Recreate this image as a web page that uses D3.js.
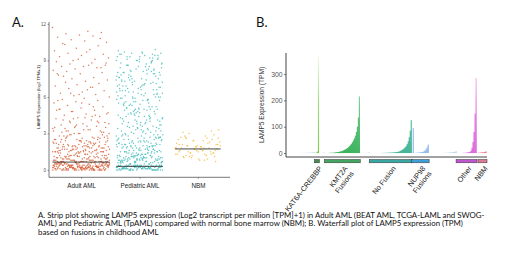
<!DOCTYPE html>
<html>
<head>
<meta charset="utf-8">
<script src="https://cdn.jsdelivr.net/npm/d3@7"></script>
<style>
  body { margin: 0; background: #fff; }
  svg { display: block; }
</style>
</head>
<body>
<div id="chart"></div>
<script>
// ---- Panel A: strip plot, LAMP5 log2(TPM+1) ----
const stripGroups = ["Adult AML", "Pediatric AML", "NBM"];
const stripTicks = [0, 3, 6, 9, 12];
const groupMedians = [0.65, 0.3, 1.73];

const adultAML = [
  11.7, 11.4, 11.2, 11.3, 11.1, 10.9, 11.0, 10.7, 10.5, 10.6, 10.4, 10.2, 10.0, 9.8, 9.9, 9.6, 9.5, 9.4, 9.3, 9.1, 9.0, 9.2, 9.7, 10.3, 10.8, 9.1,
  8.9, 8.8, 8.7, 8.6, 8.5, 8.5, 8.4, 8.3, 8.2, 8.6, 8.1, 8.0, 7.9, 7.8, 7.6, 7.5, 7.4, 7.3, 7.7, 7.1, 7.0, 6.9, 6.8, 6.7, 6.5, 6.4, 6.3, 6.2, 6.1, 6.0, 6.6, 7.2, 8.4, 6.2, 7.9, 6.8, 6.3, 8.8,
  5.9, 5.8, 5.7, 5.6, 5.5, 5.4, 5.3, 5.2, 5.1, 5.0, 4.9, 4.8, 4.7, 4.6, 4.5, 4.4, 4.3, 4.2, 4.1, 4.0, 3.9, 3.8, 3.7, 3.6, 3.5, 3.4, 3.3, 3.2, 3.1, 3.0,
  5.7, 5.2, 4.8, 4.6, 4.3, 4.1, 3.9, 3.7, 3.5, 3.3, 3.2, 3.1, 5.5, 5.0, 4.5, 4.2, 3.8, 3.6, 3.4, 3.2, 3.0, 4.9, 4.4, 3.9, 3.5, 3.3, 3.1, 4.0, 3.6, 3.2,
  2.3, 1.7, 2.9, 1.5, 2.1, 2.6, 1.9, 2.4, 1.6, 2.8, 2.0, 1.8, 2.5, 2.2, 1.5, 2.7, 1.9, 2.3, 1.6, 3.0,
  1.7, 2.1, 2.6, 1.8, 2.4, 1.5, 2.0, 2.9, 1.6, 2.2, 1.9, 2.7, 1.7, 2.5, 1.8, 2.1, 1.5, 2.3, 2.8, 1.6,
  2.0, 1.9, 2.4, 1.7, 2.6, 1.5, 2.2, 1.8, 2.9, 2.1, 1.6, 2.5, 1.7, 2.0, 2.3, 1.9, 2.7, 1.5, 2.4, 1.8,
  2.2, 1.6, 2.8, 1.7, 2.1, 1.9, 2.5, 1.5, 2.3, 2.0, 1.8, 2.6, 1.6, 2.2, 1.7, 3.0, 1.9, 2.4, 1.5, 2.1,
  1.8, 2.7, 1.6, 2.3, 2.0, 1.7, 2.5, 1.9, 2.2, 1.5, 2.8, 1.8, 2.4, 1.6, 2.1, 1.7, 2.6, 2.0, 1.9, 2.3,
  1.1, .8, 1.4, .9, 1.2, .7, 1.0, 1.3, .8, 1.5, .9, 1.1, .7, 1.4, 1.0, .8, 1.2, .9, 1.3, .7,
  1.0, 1.4, .8, 1.1, .9, 1.5, .7, 1.2, 1.0, .8, 1.3, .9, 1.1, .7, 1.4, 1.0, .8, 1.2, .9, 1.5,
  .7, 1.1, 1.3, .8, 1.0, .9, 1.2, .7, 1.4, 1.1, .8, 1.0, 1.3, .9, .7, 1.2, 1.5, .8, 1.1, 1.0,
  .9, 1.4, .7, 1.2, .8, 1.3, 1.0, .9, 1.1, .7, 1.5, .8, 1.2, 1.0, .9, 1.4, .7, 1.1, .8, 1.3,
  .3, .1, .6, .0, .4, .2, .7, .5, .1, .3, .0, .6, .2, .4, .1, .5, .3, .7, .0, .2,
  .5, .0, .2, .6, .1, .4, .3, .0, .7, .2, .5, .1, .4, .0, .6, .3, .1, .5, .2, .4,
  .1, .6, .3, .0, .5, .2, .4, .1, .7, .0, .3, .6, .2, .5, .0, .4, .1, .3, .6, .2,
  .4, .2, .0, .5, .3, .1, .6, .4, .0, .2, .7, .3, .1, .5, .2, .0, .4, .6, .1, .3,
  .2, .5, .1, .4, .0, .6, .3, .2, .5, .1, .0, .4, .7, .2, .3, .1, .6, .0, .5, .3,
  .0, .3, .5, .1, .6, .2, .0, .4, .3, .1, .5, .2, .6, .0, .4, .7, .2, .1, .3, .5,
  .6, .1, .4, .2, .0, .5, .3, .1, .6, .4, .2, .0, .3, .5, .1, .2, .7, .4, .0, .2,
  .1, .4, .0, .3, .6, .2, .5, .0, .1, .4, .3, .6, .0, .2, .5, .1, .3, .0, .4, .6,
  .3, .0, .2, .5, .1, .7, .4, .2, .0, .3, .6, .1, .4, .2, .0, .5, .3, .1, .6, .2
];

const pediatricAML = [
  7.4, 3.8, 9.1, 5.2, 6.7, 4.3, 8.5, 3.1, 6.0, 9.6, 4.9, 7.9, 5.6, 3.4, 8.2, 6.4, 4.1, 9.3, 5.9, 7.1,
  3.6, 8.8, 5.0, 6.9, 4.6, 9.0, 7.6, 3.3, 5.4, 8.0, 6.2, 4.0, 9.5, 7.3, 5.8, 3.9, 8.6, 6.6, 4.4, 7.8,
  9.2, 5.3, 3.2, 7.0, 6.1, 8.3, 4.7, 9.8, 5.7, 3.5, 7.5, 6.8, 4.2, 8.9, 3.0, 6.3, 9.4, 5.1, 7.7, 4.8,
  6.5, 4.5, 8.1, 3.7, 9.7, 5.5, 7.2, 4.1, 6.9, 8.7, 3.9, 5.0, 9.1, 7.4, 4.3, 6.0, 8.4, 3.2, 5.6, 7.9,
  4.0, 7.6, 5.8, 9.3, 3.4, 6.6, 8.0, 5.2, 4.6, 9.0, 6.3, 3.6, 7.1, 8.5, 5.9, 4.4, 9.6, 6.8, 3.1, 7.3,
  8.2, 3.3, 6.1, 4.9, 7.8, 9.4, 5.4, 3.8, 8.8, 6.4, 4.2, 7.0, 5.1, 9.9, 3.5, 6.7, 8.3, 4.7, 5.7, 7.5,
  5.3, 9.2, 4.5, 7.7, 3.0, 8.6, 6.2, 5.0, 9.5, 4.0, 7.2, 3.7, 8.1, 6.5, 4.8, 9.0, 5.5, 3.4, 7.4, 6.0,
  3.9, 6.9, 8.9, 5.6, 4.3, 7.1, 9.3, 3.2, 6.3, 8.4, 5.2, 4.6, 7.8, 3.6, 9.7, 6.6, 5.0, 8.0, 4.1, 7.6,
  9.1, 4.7, 7.3, 3.1, 5.9, 8.7, 6.1, 4.4, 9.4, 3.8, 7.0, 5.8, 8.2, 6.8, 3.3, 5.4, 9.0, 4.9, 6.4, 8.5,
  6.7, 3.5, 5.1, 8.8, 4.2, 7.5, 9.6, 5.7, 3.0, 6.2, 8.3, 4.5, 7.9, 5.3, 9.2, 3.7, 6.5, 8.1, 4.8, 7.2,
  4.4, 8.6, 6.0, 3.4, 9.5, 5.5, 7.7, 4.0, 6.9, 8.0, 3.6, 5.9, 9.3, 7.4, 4.6, 6.3, 8.9, 3.2, 5.0, 7.0,
  2.4, 1.1, 2.9, .7, 1.8, 2.2, 1.4, .9, 2.6, 1.6, .6, 2.0, 1.2, 2.8, 1.0, 1.9, .8, 2.3, 1.5, .5,
  1.3, 2.7, .9, 2.1, 1.7, .6, 2.5, 1.0, 1.4, 2.9, .8, 1.8, 2.2, 1.1, .7, 2.6, 1.5, 2.0, .9, 1.2,
  2.3, .5, 1.6, 2.8, 1.0, 1.9, .7, 2.4, 1.3, .8, 2.1, 1.7, .6, 2.7, 1.1, 1.5, 2.0, .9, 2.5, 1.4,
  .8, 1.8, 2.2, .6, 1.2, 2.9, 1.0, 1.6, .7, 2.3, 1.4, .9, 2.6, 1.1, .5, 1.9, 2.1, 1.3, .8, 1.7,
  2.0, 1.0, .7, 2.5, 1.5, .9, 2.8, 1.2, 1.8, .6, 2.4, 1.1, 1.6, .8, 2.2, 1.4, .5, 2.7, 1.0, 1.9,
  1.1, .6, 2.1, 1.7, .9, 2.6, 1.3, .7, 1.9, 2.3, 1.0, .8, 1.5, 2.9, 1.2, .6, 2.0, 1.6, .9, 2.4,
  .7, 1.4, 2.2, 1.0, .5, 1.8, 2.7, 1.2, .8, 1.6, 2.0, .9, 1.3, 2.5, .6, 1.1, 1.9, .7, 2.8, 1.5,
  1.6, .8, 1.2, 2.4, .6, 1.0, 2.1, 1.4, .9, 2.6, 1.7, .5, 1.1, 2.3, .8, 1.5, 1.0, 2.9, 1.3, .7,
  2.2, 1.3, .6, 1.9, 1.1, 2.7, .9, 1.5, 2.0, .7, 1.2, 2.4, 1.0, .8, 1.8, 2.1, .6, 1.4, 2.5, 1.0,
  .2, .0, .4, .1, .3, .0, .2, .4, .1, .3, .2, .0, .3, .1, .4, .2, .0, .1, .3, .2,
  .1, .3, .0, .2, .4, .1, .3, .0, .2, .1, .4, .3, .0, .2, .1, .3, .4, .0, .2, .1,
  .4, .1, .2, .0, .3, .2, .1, .4, .0, .3, .1, .2, .0, .4, .3, .1, .2, .0, .3, .1,
  .0, .2, .3, .1, .0, .4, .2, .1, .3, .0, .2, .4, .1, .3, .0, .2, .1, .3, .4, .0,
  .3, .0, .1, .4, .2, .1, .0, .3, .2, .4, .0, .1, .3, .2, .0, .4, .1, .2, .0, .3
];

const nbm = [
  1.8, 2.4, 1.2, 2.9, 1.6, 2.1, .9, 1.4, 2.6, 1.9, 1.1, 3.2, 1.7, 2.2, 1.3, 2.0, .7, 1.5, 2.7, 1.8,
  1.0, 2.3, 1.6, 2.8, 1.4, 1.9, 2.5, 1.2, 3.0, 1.7, .8, 2.1, 1.5, 2.4, 1.3, 1.8, 2.6, 1.1, 2.0, 1.6,
  2.2, 1.4, 3.3, 1.9, 1.0, 2.5, 1.7, 1.3, 2.8, 1.5, 2.1, .9, 1.8, 2.3, 1.2, 2.0, 1.6, 2.7, 1.4, 1.9,
  1.5, 2.6, 1.1, 2.1, 1.7, 3.1, 1.3, 2.4, 1.8, .8, 2.0, 1.6
];

// ---- Panel B: waterfall, LAMP5 TPM sorted within fusion group ----
const fusionGroups = ["pre", "KAT6A-CREBBP", "gap1", "KMT2A Fusions", "gap2", "No Fusion",
  "NUP98 Fusions", "gap3", "Other", "gap4", "NBM"];
const fusionLabels = ["", "KAT6A-CREBBP", "", "KMT2A\nFusions", "", "No Fusion",
  "NUP98\nFusions", "", "Other", "", "NBM"];
const tpmPre = [0, 0, 0, 0, 0, 0, 0, 0, 0, 0.1, 0.1, 0.2, 0.2, 0.3, 0.3, 0.4, 0.5, 0.5, 0.6, 0.7, 0.8, 1, 1.1, 1.3, 1.5, 1.8, 2.2, 3];
const tpmKAT6A = [0.5, 2, 6, 370];
const tpmGap1 = [0, 0, 0.2, 0.4, 0.8, 1.5];
const tpmKMT2A = [0, 0, 0, 0.5, 0.5, 1, 1, 1, 1.5, 2, 2.5, 3, 3.5, 4, 5, 6, 7, 8, 10, 12,
  14, 16, 19, 22, 26, 30, 35, 41, 48, 56, 66, 80, 100, 135, 215];
const tpmGap2 = [0, 0, 0, 0, 0.2, 0.3, 0.5, 0.8, 1.2, 2];
const tpmNoFusion = [0, 0, 0, 0, 0, 0, 0, 0, 0, 0, 0.2, 0.3, 0.4, 0.5, 0.6, 0.8, 1, 1, 1.2, 1.4,
  1.6, 1.8, 2, 2.3, 2.6, 3, 3.5, 4, 5, 6, 8, 10, 12, 15, 18, 22, 27, 34, 45, 60, 85, 125];
const tpmNUP98 = [0.5, 95, 0, 0.5, 1, 1, 1.5, 2, 2.5, 3, 4, 5, 7, 10, 15, 22, 32];
const tpmGap3 = [0, 0, 0, 0, 0, 0, 0, 0, 0, 0, 0.1, 0.2, 0.2, 0.3, 0.4, 0.5, 0.6, 0.8, 1, 1.2,
  1.5, 1.8, 2.2, 2.7, 3.3, 4, 5, 7];
const tpmOther = [0, 0, 0, 0, 0, 0.3, 0.5, 0.8, 1, 1.3, 1.8, 2.5, 3.5, 4.5, 9, 20, 42, 80, 150, 285];
const tpmGap4 = [0.5, 1.5];
const tpmNBM = [1, 1.5, 2, 2.5, 3, 3.5, 4.5, 6];
const tpmTicks = [0, 100, 200, 300];

const captionLines = [
  "A. Strip plot showing LAMP5 expression (Log2 transcript per million [TPM]+1) in Adult AML (BEAT AML, TCGA-LAML and SWOG-",
  "AML) and Pediatric AML (TpAML) compared with normal bone marrow (NBM); B. Waterfall plot of LAMP5 expression (TPM)",
  "based on fusions in childhood AML"
];

const width = 520;
const height = 255;
const svg = d3.select('#chart').append('svg')
  .attr('width', width)
  .attr('height', height);

const plotFont = '"Liberation Sans", Arial, sans-serif';
const textFont = 'Lato, "Open Sans", sans-serif';

// panel letters
svg.append('text').attr('x', 12).attr('y', 27)
  .attr('font-family', textFont).attr('font-size', 13).attr('fill', '#111')
  .text('A.');
svg.append('text').attr('x', 256).attr('y', 27)
  .attr('font-family', textFont).attr('font-size', 13).attr('fill', '#111')
  .text('B.');

// ================= Panel A =================
const stripData = [adultAML, pediatricAML, nbm];
const stripColors = ['#d65c32', '#40bcba', '#f2b935'];
const jitterHalf = [0.49, 0.4, 0.39];   // fraction of category step

const xA = d3.scalePoint().domain(stripGroups).range([49, 230]).padding(0.55);
const yA = d3.scaleLinear().domain([-0.6, 12.15]).range([177.3, 22.1]);
const stepA = xA.step();

const gA = svg.append('g');

// axes lines
gA.append('line').attr('x1', 49).attr('x2', 49).attr('y1', 22).attr('y2', 177.3)
  .attr('stroke', '#555').attr('stroke-width', 0.8);
gA.append('line').attr('x1', 49).attr('x2', 230).attr('y1', 177.3).attr('y2', 177.3)
  .attr('stroke', '#555').attr('stroke-width', 0.8);

const yAxisA = gA.append('g').attr('transform', 'translate(49,0)')
  .call(d3.axisLeft(yA).tickValues(stripTicks).tickSize(1.5).tickPadding(1.5));
yAxisA.select('.domain').remove();
yAxisA.selectAll('line').attr('stroke', '#555').attr('stroke-width', 0.6);
yAxisA.selectAll('text').attr('font-size', 4.5).attr('font-family', plotFont).attr('fill', '#555');

const xAxisA = gA.append('g').attr('transform', 'translate(0,177.3)')
  .call(d3.axisBottom(xA).tickSize(1.5).tickPadding(5));
xAxisA.select('.domain').remove();
xAxisA.selectAll('line').attr('stroke', '#555').attr('stroke-width', 0.6);
xAxisA.selectAll('text').attr('font-size', 6.3).attr('font-family', plotFont).attr('fill', '#222');

gA.append('text')
  .attr('transform', 'translate(40,97) rotate(-90)')
  .attr('text-anchor', 'middle')
  .attr('font-family', plotFont).attr('font-size', 4.3).attr('fill', '#222')
  .text('LAMP5 Expression (log2 TPM+1)');

const golden = 0.6180339887;
stripData.forEach((vals, gi) => {
  const cx = xA(stripGroups[gi]);
  const half = jitterHalf[gi] * stepA;
  gA.append('g').selectAll('circle')
    .data(vals)
    .enter()
    .append('circle')
    .attr('cx', (d, i) => cx + (((i * golden) % 1) - 0.5) * 2 * half)
    .attr('cy', d => yA(d))
    .attr('r', 0.75)
    .attr('fill', stripColors[gi])
    .attr('opacity', 0.8);
});

// median lines
gA.selectAll('.median')
  .data(groupMedians)
  .enter()
  .append('line')
  .attr('class', 'median')
  .attr('x1', (d, i) => xA(stripGroups[i]) - jitterHalf[i] * stepA)
  .attr('x2', (d, i) => xA(stripGroups[i]) + jitterHalf[i] * stepA)
  .attr('y1', d => yA(d))
  .attr('y2', d => yA(d))
  .attr('stroke', '#333')
  .attr('stroke-width', 0.9);

// ================= Panel B =================
const fusionValues = [tpmPre, tpmKAT6A, tpmGap1, tpmKMT2A, tpmGap2, tpmNoFusion,
  tpmNUP98, tpmGap3, tpmOther, tpmGap4, tpmNBM];
const fusionColors = ['#b8cfe0', '#7ccb4e', '#b8cfe0', '#3db35e', '#b8cfe0', '#33ad8c',
  '#86b5e4', '#b8cfe0', '#d850d6', '#d8b0d8', '#e8667c'];
const barColors = {
  'KAT6A-CREBBP': '#3f8f4f',
  'KMT2A Fusions': '#44a462',
  'No Fusion': '#3aa7a4',
  'NUP98 Fusions': '#3f9fd8',
  'Other': '#bf55cf',
  'NBM': '#dd7a96'
};

const samples = [];
fusionGroups.forEach((g, gi) => {
  fusionValues[gi].forEach((v, i) => samples.push({ group: g, gi: gi, id: g + '-' + i, value: v }));
});

const xB = d3.scaleBand().domain(samples.map(d => d.id)).range([287, 486.5]).padding(0);
const yB = d3.scaleLinear().domain([-15, 380]).range([157, 53]);

const gB = svg.append('g');
const defs = svg.append('defs');

// fade towards the top, the way the dense thin bars look
fusionGroups.forEach((g, gi) => {
  const grad = defs.append('linearGradient')
    .attr('id', 'fade' + gi)
    .attr('gradientUnits', 'userSpaceOnUse')
    .attr('x1', 0).attr('x2', 0)
    .attr('y1', yB(380)).attr('y2', yB(0));
  grad.append('stop').attr('offset', 0).attr('stop-color', fusionColors[gi]).attr('stop-opacity', 0.08);
  grad.append('stop').attr('offset', 0.55).attr('stop-color', fusionColors[gi]).attr('stop-opacity', 0.75);
  grad.append('stop').attr('offset', 1).attr('stop-color', fusionColors[gi]).attr('stop-opacity', 1);
});

gB.append('g').selectAll('rect')
  .data(samples)
  .enter()
  .append('rect')
  .attr('x', d => xB(d.id))
  .attr('width', xB.bandwidth() + 0.15)
  .attr('y', d => yB(d.value))
  .attr('height', d => Math.max(0, yB(0) - yB(d.value)))
  .attr('fill', d => `url(#fade${d.gi})`);

// axes
gB.append('line').attr('x1', 286).attr('x2', 286).attr('y1', 53).attr('y2', 157)
  .attr('stroke', '#444').attr('stroke-width', 1);
gB.append('line').attr('x1', 286).attr('x2', 487).attr('y1', 157).attr('y2', 157)
  .attr('stroke', '#444').attr('stroke-width', 1);

const yAxisB = gB.append('g').attr('transform', 'translate(286,0)')
  .call(d3.axisLeft(yB).tickValues(tpmTicks).tickSize(2).tickPadding(1.5));
yAxisB.select('.domain').remove();
yAxisB.selectAll('line').attr('stroke', '#444').attr('stroke-width', 0.7);
yAxisB.selectAll('text').attr('font-size', 6.8).attr('font-family', plotFont).attr('fill', '#555');

gB.append('text')
  .attr('transform', 'translate(264,105) rotate(-90)')
  .attr('text-anchor', 'middle')
  .attr('font-family', plotFont).attr('font-size', 6.6).attr('fill', '#333')
  .text('LAMP5 Expression (TPM)');

// group bars and rotated labels
const labelled = fusionGroups
  .map((g, gi) => ({ group: g, label: fusionLabels[gi], vals: fusionValues[gi] }))
  .filter(d => d.label !== '');

labelled.forEach(d => {
  const x0 = xB(d.group + '-0') - 0.5;
  const x1 = xB(d.group + '-' + (d.vals.length - 1)) + xB.bandwidth() + 0.5;
  d.x0 = x0;
  d.x1 = x1;
  d.cx = (x0 + x1) / 2;
});

gB.selectAll('.grpbar')
  .data(labelled)
  .enter()
  .append('rect')
  .attr('class', 'grpbar')
  .attr('x', d => d.x0)
  .attr('width', d => d.x1 - d.x0)
  .attr('y', 159.5)
  .attr('height', 3.3)
  .attr('fill', d => barColors[d.group])
  .attr('stroke', '#333')
  .attr('stroke-width', 0.5);

const labelG = gB.selectAll('.grplabel')
  .data(labelled)
  .enter()
  .append('text')
  .attr('class', 'grplabel')
  .attr('transform', d => `translate(${d.cx + 1.5},165.5) rotate(-52)`)
  .attr('text-anchor', 'end')
  .attr('font-family', plotFont)
  .attr('font-size', 7.3)
  .attr('fill', '#222');

labelG.selectAll('tspan')
  .data(d => d.label.split('\n'))
  .enter()
  .append('tspan')
  .attr('x', 0)
  .attr('dy', (d, i) => i === 0 ? '0.7em' : '1.1em')
  .text(d => d);

// ================= Caption =================
const cap = svg.append('g').attr('font-family', textFont).attr('fill', '#111');
const capTexts = cap.selectAll('text')
  .data(captionLines)
  .enter()
  .append('text')
  .attr('x', 38)
  .attr('y', (d, i) => 217.5 + i * 8.6)
  .attr('font-size', 7.5)
  .text(d => d);

// fit the first line to its width in the reference
const firstW = capTexts.node().getComputedTextLength();
const capSize = 7.5 * 447 / firstW;
capTexts.attr('font-size', capSize);
</script>
</body>
</html>
